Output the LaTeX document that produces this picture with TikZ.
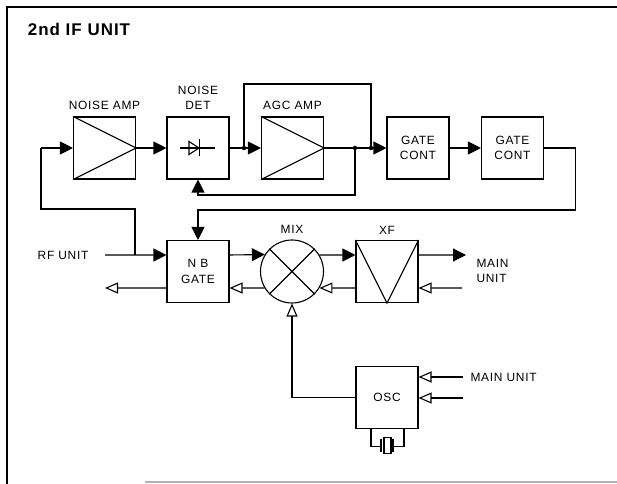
\documentclass[tikz,border=0pt]{standalone}
\usepackage{fontspec}
\setmainfont{Liberation Sans}[LetterSpace=6]
\usetikzlibrary{arrows.meta}
\newcommand{\blkfont}{\fontsize{12}{15.5}\selectfont}
\tikzset{blk/.style={draw, minimum width=62bp, minimum height=62bp, inner sep=0pt,
        align=center, font=\blkfont},
    txt/.style={font=\blkfont, align=center, inner sep=1bp},
    mixer/.style={draw, circle, minimum size=63bp, inner sep=0pt},
    jn/.style={circle, fill, inner sep=0pt, minimum size=4.5bp},
    fwd/.style={-{Triangle[length=13bp,width=13bp]}},
    back/.style={-{Triangle[open,length=13bp,width=11bp]}},
    title/.style={anchor=west, font=\fontsize{17}{20}\selectfont\bfseries}}

\begin{document}
\begin{tikzpicture}[x=1bp, y=-1bp, line width=1.1bp]
\useasboundingbox (0,0) rectangle (617,484);
\draw (617,7) -- (7,7) -- (7,484);
\draw[gray!60] (145,482) -- (617,482);
\node[title] (ttl) at (24,29) {2nd IF UNIT};

% upper row
\node[blk] (namp) at (104.5,148) {};
\node[blk] (ndet) at (198,148) {};
\node[blk] (agc) at (292.5,148) {};
\node[blk] (gc1) at (418,148) {GATE\\CONT};
\node[blk] (gc2) at (512.5,148) {GATE\\CONT};
\node[txt, anchor=south] (namplbl) at ([yshift=5bp]namp.north) {NOISE AMP};
\node[txt, anchor=south] (ndetlbl) at ([yshift=5bp]ndet.north) {NOISE\\DET};
\node[txt, anchor=south] (agclbl) at ([yshift=5bp]agc.north) {AGC AMP};
\draw (namp.north west) -- (namp.east) -- (namp.south west);
\draw (agc.north west) -- (agc.east) -- (agc.south west);
\begin{scope}[shift={(ndet.center)}]
    \draw (-18,0) -- (17,0);
    \draw (-9,-6.5) -- (1,0) -- (-9,6.5) -- cycle;
    \draw (1.5,-8.5) -- (1.5,8.5);
\end{scope}
\node[jn] (d1) at (244,148) {};
\node[jn] (d2) at (355,148) {};
\node[jn] (d3) at (371,148) {};
\coordinate (ampin) at (41,148);
\draw[fwd] (ampin) -- (namp.west);
\draw[fwd] (namp.east) -- (ndet.west);
\draw (ndet.east) -- (d1.center);
\draw[fwd] (d1.center) -- (agc.west);
\draw (agc.east) -- (d2.center) -- (d3.center);
\draw[fwd] (d3.center) -- (gc1.west);
\draw (d1.center) -- ++(0,-64) -| (d3.center);
\draw[fwd] (d2.center) -- ++(0,47) -| (ndet.south);
\draw[fwd] (gc1.east) -- (gc2.west);

% lower row
\node[blk] (nbg) at (198,271.5) {N B\\GATE};
\node[mixer] (mix) at (292,271.5) {};
\node[blk] (xf) at (387,271.5) {};
\node[txt, anchor=south] (mixlbl) at ([yshift=4bp]mix.north) {MIX};
\node[txt, anchor=south] (xflbl) at ([yshift=4bp]xf.north) {XF};
\draw (mix.45) -- (mix.225) (mix.135) -- (mix.-45);
\draw (xf.north west) -- (xf.south) -- (xf.north east);
\draw[fwd] (gc2.east) -- ++(31,0) -- ++(0,62) -| (nbg.north);
\coordinate (rfj) at (135,255);
\coordinate (rfin) at (105,255);
\coordinate (nbout) at (105,288);
\node[txt, anchor=east] (rflbl) at (90,255) {RF UNIT};
\draw (ampin) -- ++(0,61) -| (rfj);
\draw[fwd] (rfin) -- ([yshift=16.5bp]nbg.west);
\draw[back] ([yshift=-16.5bp]nbg.west) -- (nbout);
\draw[fwd] ([yshift=16.5bp]nbg.east) -- (mix.148.4);
\draw[back] (mix.211.6) -- ([yshift=-16.5bp]nbg.east);
\draw[fwd] (mix.31.6) -- ([yshift=16.5bp]xf.west);
\draw[back] ([yshift=-16.5bp]xf.west) -- (mix.-31.6);
\coordinate (xfout) at (466,255);
\coordinate (xfin) at (462,288);
\draw[fwd] ([yshift=16.5bp]xf.east) -- (xfout);
\draw[back] (xfin) -- ([yshift=-16.5bp]xf.east);
\node[txt, anchor=west, align=left] (mainlbl) at (475,271) {MAIN\\UNIT};

% oscillator
\node[blk] (osc) at (387,397.5) {OSC};
\draw[back] (osc.west) -| (mix.south);
\coordinate (oscin1) at (463,377);
\coordinate (oscin2) at (463,398);
\draw[back] (oscin1) -- (osc.east |- oscin1);
\draw[back] (oscin2) -- (osc.east |- oscin2);
\node[txt, anchor=west] (osclbl) at (469,377) {MAIN UNIT};
\begin{scope}[shift={(osc.south)}]
    \draw (-16,0) -- (-16,17) -- (-6,17);
    \draw (-6,10) -- (-6,23);
    \draw (-3,8) rectangle (4,24);
    \draw (6,10) -- (6,23);
    \draw (6,17) -- (17,17) -- (17,0);
\end{scope}
\end{tikzpicture}
\end{document}
